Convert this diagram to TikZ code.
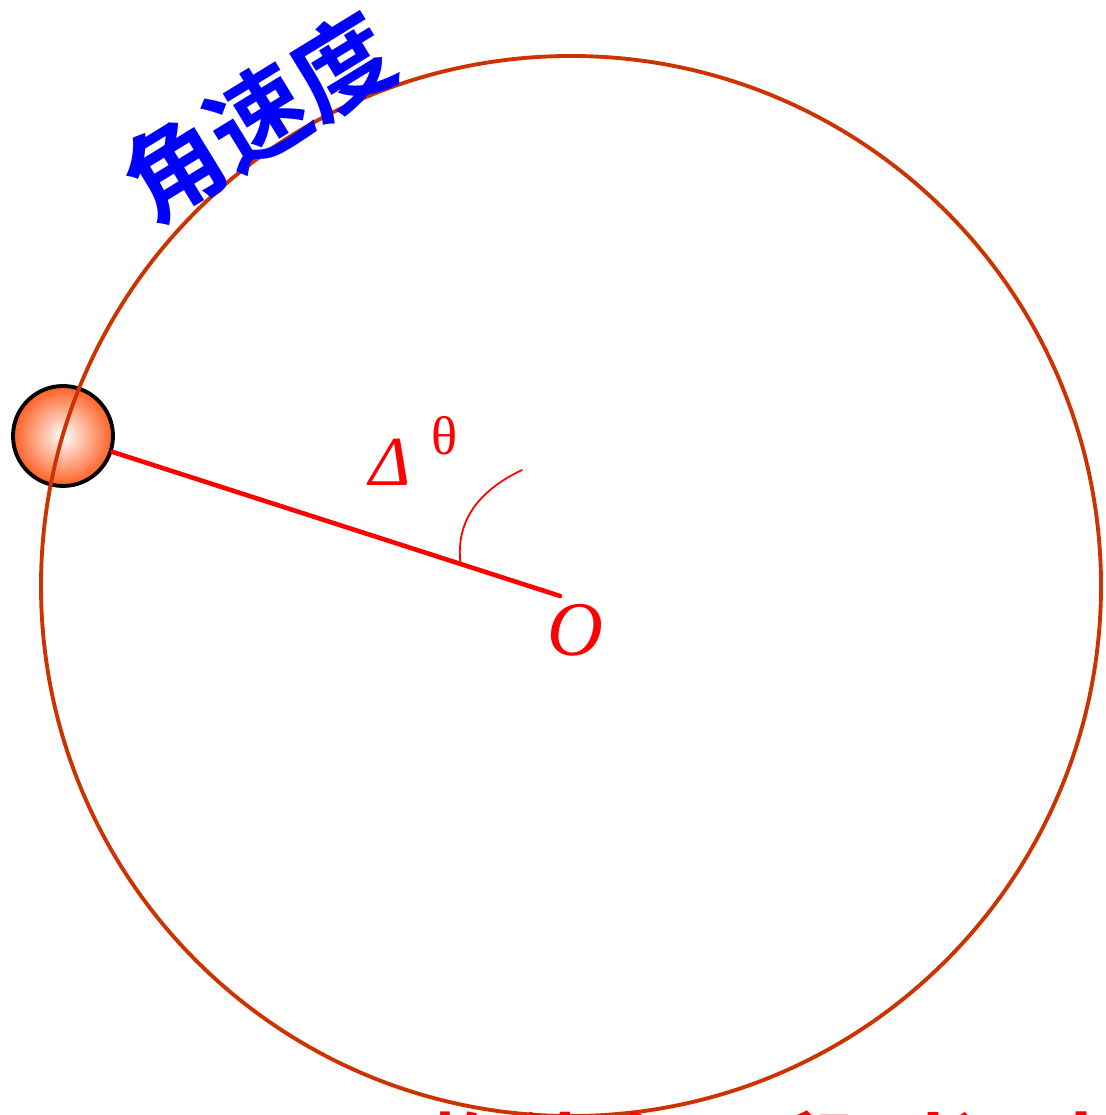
\documentclass[tikz,border=0pt]{standalone}
\usepackage{fontspec}
\newfontfamily\cjk{Noto Sans CJK SC}[BoldFont={Noto Sans CJK SC Bold}]
\newfontfamily\serif{Liberation Serif}
\usetikzlibrary{calc}
\definecolor{trackcol}{RGB}{204,51,0}
\definecolor{ballcol}{RGB}{255,95,35}
\begin{document}
\begin{tikzpicture}[scale=1,>=stealth, line join=round, line cap=round,
	ballnode/.style={circle, draw=black, line width=1.1pt, minimum size=1.0cm, inner sep=0pt, shading=radial, inner color=white, outer color=ballcol},
	redlabel/.style={text=red, inner sep=0pt}]
	\useasboundingbox (0,0) rectangle (11.05,11.15);
	\def\R{5.30}
	\coordinate (C) at (5.71,5.29);
	\coordinate (O) at (5.60,5.19);
	\node[ballnode] (ball) at (0.63,6.79) {};
	\draw[trackcol, line width=1.1pt] (C) circle (\R);
	\draw[red, line width=1.3pt] (ball) -- (O);
	% angle mark
	\coordinate (arcstart) at ($(O)!0.2!(ball.center)$);
	\coordinate (arcend) at (5.22,6.45);
	\draw[red, line width=0.5pt] (arcstart) .. controls (4.55,5.95) and (4.80,6.25) .. (arcend);
	\node[redlabel, font=\serif\itshape\fontsize{20}{24}\selectfont] (delta) at (3.90,6.53) {Δ};
	\node[redlabel, font=\serif\fontsize{15.5}{18}\selectfont] (theta) at (4.45,6.79) {θ};
	\node[redlabel, font=\serif\itshape\fontsize{22}{26}\selectfont] (olabel) at (5.75,4.85) {O};
	% titles
	\node[text=blue, inner sep=0pt, rotate=31.5, font=\cjk\bfseries\fontsize{28}{32}\selectfont] (title) at (2.58,9.98) {角速度};
	\node[redlabel, anchor=north west, font=\cjk\bfseries\fontsize{25}{30}\selectfont] (caption) at (4.22,0.05) {物体在一段时间内转过的角度};
\end{tikzpicture}
\end{document}
